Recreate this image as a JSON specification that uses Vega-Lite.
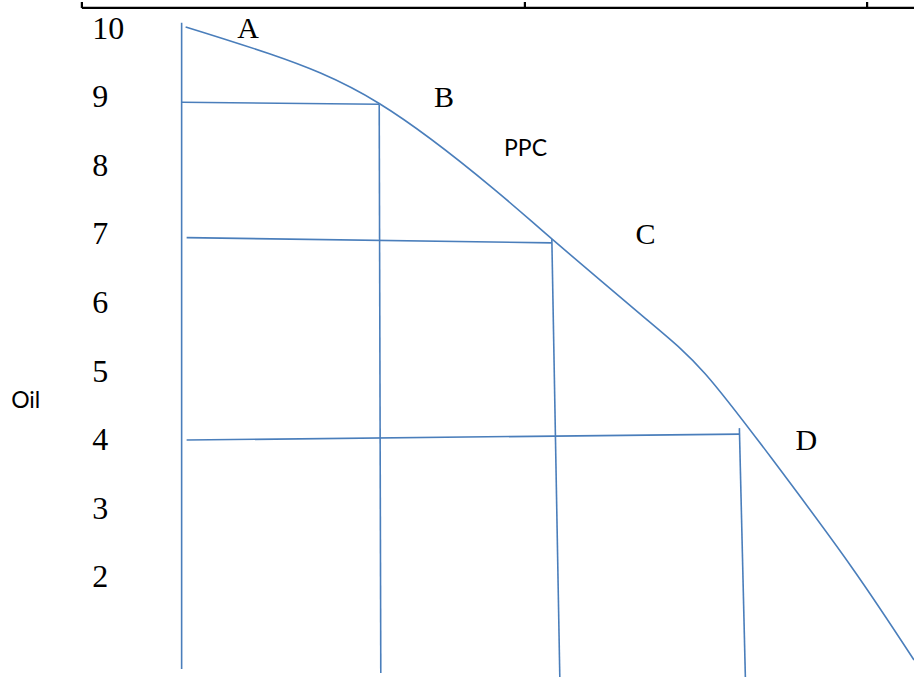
{
  "$schema": "https://vega.github.io/schema/vega-lite/v6.json",
  "width": 916,
  "height": 678,
  "autosize": {"type": "fit", "contains": "padding"},
  "padding": 0,
  "background": "white",
  "config": {"view": {"stroke": null}},
  "datasets": {
    "table": [
      {"x": -1.451, "y": 10.289, "x2": 10.653, "y2": 10.289},
      {"x": -1.451, "y": 10.289, "x2": -1.451, "y2": 10.376},
      {"x": 4.993, "y": 10.289, "x2": 4.993, "y2": 10.376},
      {"x": 9.971, "y": 10.289, "x2": 9.971, "y2": 10.376}
    ],
    "grid": [
      {"x": 0, "y": 10.075, "x2": 0, "y2": 0.652},
      {"x": 0, "y": 8.914, "x2": 2.874, "y2": 8.885},
      {"x": 2.874, "y": 8.881, "x2": 2.897, "y2": 0.594},
      {"x": 0.073, "y": 6.941, "x2": 5.385, "y2": 6.864},
      {"x": 5.385, "y": 6.922, "x2": 5.501, "y2": 0.536},
      {"x": 0.073, "y": 3.99, "x2": 8.113, "y2": 4.077},
      {"x": 8.113, "y": 4.164, "x2": 8.2, "y2": 0.536}
    ],
    "curve": [
      {"x": 0.058, "y": 10.013},
      {"x": 1.277, "y": 9.621},
      {"x": 2.874, "y": 8.896},
      {"x": 4.543, "y": 7.648},
      {"x": 5.385, "y": 6.922},
      {"x": 6.749, "y": 5.761},
      {"x": 7.615, "y": 4.958},
      {"x": 8.582, "y": 3.724},
      {"x": 9.739, "y": 2.148},
      {"x": 10.653, "y": 0.784}
    ],
    "ticks": [
      {"label": "10", "x": -1.3, "y": 10},
      {"label": "9", "x": -1.3, "y": 9},
      {"label": "8", "x": -1.3, "y": 8},
      {"label": "7", "x": -1.3, "y": 7},
      {"label": "6", "x": -1.3, "y": 6},
      {"label": "5", "x": -1.3, "y": 5},
      {"label": "4", "x": -1.3, "y": 4},
      {"label": "3", "x": -1.3, "y": 3},
      {"label": "2", "x": -1.3, "y": 2}
    ],
    "points": [
      {"label": "A", "x": 0.965, "y": 9.853},
      {"label": "B", "x": 3.817, "y": 8.852},
      {"label": "C", "x": 6.749, "y": 6.845},
      {"label": "D", "x": 9.086, "y": 3.845}
    ],
    "notes": [
      {"label": "Oil", "x": -2.48, "y": 4.454},
      {"label": "PPC", "x": 4.69, "y": 8.126}
    ]
  },
  "layer": [
    {
      "data": {"name": "table"},
      "mark": {"type": "rule", "color": "#000000", "strokeWidth": 2.2},
      "encoding": {
        "x": {"field": "x", "type": "quantitative", "scale": {"domain": [-2.642, 10.653], "nice": false, "zero": false}, "axis": null},
        "y": {"field": "y", "type": "quantitative", "scale": {"domain": [0.536, 10.376], "nice": false, "zero": false}, "axis": null},
        "x2": {"field": "x2"},
        "y2": {"field": "y2"}
      }
    },
    {
      "data": {"name": "grid"},
      "mark": {"type": "rule", "color": "#4A7EBB", "strokeWidth": 1.6},
      "encoding": {
        "x": {"field": "x", "type": "quantitative"},
        "y": {"field": "y", "type": "quantitative"},
        "x2": {"field": "x2"},
        "y2": {"field": "y2"}
      }
    },
    {
      "data": {"name": "curve"},
      "mark": {"type": "line", "color": "#4A7EBB", "strokeWidth": 1.6, "interpolate": "natural", "clip": true},
      "encoding": {
        "x": {"field": "x", "type": "quantitative"},
        "y": {"field": "y", "type": "quantitative"}
      }
    },
    {
      "data": {"name": "ticks"},
      "mark": {"type": "text", "font": "Liberation Serif", "fontSize": 32, "align": "left", "baseline": "alphabetic", "dy": 10.8, "color": "#000000"},
      "encoding": {
        "x": {"field": "x", "type": "quantitative"},
        "y": {"field": "y", "type": "quantitative"},
        "text": {"field": "label"}
      }
    },
    {
      "data": {"name": "points"},
      "mark": {"type": "text", "font": "Liberation Serif", "fontSize": 30, "align": "center", "baseline": "alphabetic", "color": "#000000"},
      "encoding": {
        "x": {"field": "x", "type": "quantitative"},
        "y": {"field": "y", "type": "quantitative"},
        "text": {"field": "label"}
      }
    },
    {
      "data": {"name": "notes"},
      "mark": {"type": "text", "font": "Lato", "fontSize": 23, "align": "left", "baseline": "alphabetic", "color": "#000000"},
      "encoding": {
        "x": {"field": "x", "type": "quantitative"},
        "y": {"field": "y", "type": "quantitative"},
        "text": {"field": "label"}
      }
    }
  ]
}
